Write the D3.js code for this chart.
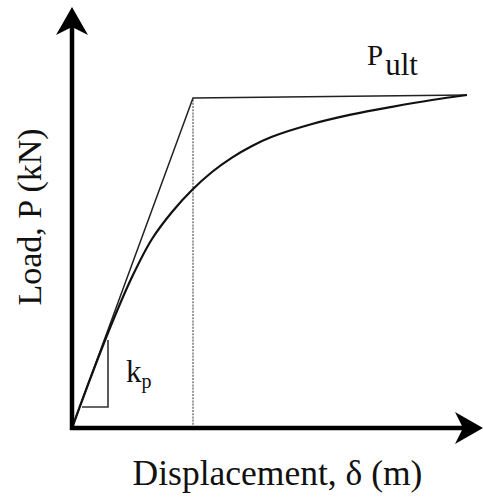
<!DOCTYPE html>
<html>
<head>
<meta charset="utf-8">
<script src="https://cdn.jsdelivr.net/npm/d3@7/dist/d3.min.js"></script>
<style>
  html, body { margin: 0; padding: 0; background: #fff; }
  svg { display: block; }
  svg text { font-family: "Liberation Serif", "DejaVu Serif", serif; }
</style>
</head>
<body>
<script>
// Load–displacement response of a pile: nonlinear curve and its bilinear idealisation
// (normalised units, 0–100 on both axes)
const curveDisp = [0, 5, 10, 15, 20, 25, 30, 35, 40, 45, 50, 60, 70, 80, 90, 98.75];
const curveLoad = [0, 13.5, 26.25, 37.75, 47.25, 54.0, 59.5, 64.0, 67.6, 70.5, 72.8, 76.0, 78.4, 80.3, 82.0, 83.25];

const bilinDisp = [0, 30.25, 98.75];
const bilinLoad = [0, 82.5, 83.25];

// yield displacement marker and initial-stiffness (kp) triangle
const yieldDisp = 30.25;
const yieldLoad = 82.5;
const kpDisp = [2.5, 9, 9];
const kpLoad = [5.25, 5.25, 22];

const axisExtent = { x: 102.75, y: 105.25 };
const xLabel = "Displacement, δ (m)";
const yLabel = "Load, P (kN)";

const W = 483, H = 499;
const svg = d3.select("body").append("svg").attr("width", W).attr("height", H);

const x = d3.scaleLinear().domain([0, 100]).range([72, 472]);
const y = d3.scaleLinear().domain([0, 100]).range([428, 28]);

const line = d3.line().x(d => x(d[0])).y(d => y(d[1]));

// dotted vertical line at yield displacement
svg.append("path")
  .attr("d", line([[yieldDisp, 0], [yieldDisp, yieldLoad]]))
  .attr("fill", "none").attr("stroke", "#555").attr("stroke-width", 1.2)
  .attr("stroke-dasharray", "2,1.2");

// kp triangle
svg.append("path")
  .attr("d", line(kpDisp.map((d, i) => [d, kpLoad[i]])))
  .attr("fill", "none").attr("stroke", "#333").attr("stroke-width", 1.6);

// bilinear idealisation
svg.append("path")
  .attr("d", line(bilinDisp.map((d, i) => [d, bilinLoad[i]])))
  .attr("fill", "none").attr("stroke", "#222").attr("stroke-width", 1.5)
  .attr("stroke-linejoin", "miter");

// nonlinear load–displacement curve
svg.append("path")
  .attr("d", d3.line().curve(d3.curveCatmullRom.alpha(0.5)).x(d => x(d[0])).y(d => y(d[1]))(curveDisp.map((d, i) => [d, curveLoad[i]])))
  .attr("fill", "none").attr("stroke", "#111").attr("stroke-width", 2.2);

// axes with arrowheads
const x0 = x(0), y0 = y(0);
const xTip = x(axisExtent.x), yTip = y(axisExtent.y);
svg.append("line").attr("x1", x0 - 2).attr("y1", y0).attr("x2", xTip - 12).attr("y2", y0)
  .attr("stroke", "#000").attr("stroke-width", 4.5);
svg.append("line").attr("x1", x0).attr("y1", y0 + 2).attr("x2", x0).attr("y2", yTip + 12)
  .attr("stroke", "#000").attr("stroke-width", 4.5);
svg.append("path")
  .attr("d", `M${xTip},${y0} L${xTip - 28},${y0 - 16} L${xTip - 20},${y0} L${xTip - 28},${y0 + 16} Z`)
  .attr("fill", "#000");
svg.append("path")
  .attr("d", `M${x0},${yTip} L${x0 + 16},${yTip + 28} L${x0},${yTip + 20} L${x0 - 16},${yTip + 28} Z`)
  .attr("fill", "#000");

// labels
svg.append("text")
  .attr("x", 277.5).attr("y", 485)
  .attr("text-anchor", "middle").attr("font-size", 35.5).attr("fill", "#111")
  .text(xLabel);

svg.append("text")
  .attr("transform", `translate(41,217) rotate(-90)`)
  .attr("text-anchor", "middle").attr("font-size", 34).attr("fill", "#111")
  .text(yLabel);

const pult = svg.append("text").attr("x", 367).attr("y", 65).attr("font-size", 29).attr("fill", "#111");
pult.append("tspan").text("P");
pult.append("tspan").attr("dx", 2).attr("dy", 10).attr("font-size", 31).text("ult");

const kp = svg.append("text").attr("x", 126).attr("y", 382).attr("font-size", 31).attr("fill", "#111");
kp.append("tspan").text("k");
kp.append("tspan").attr("dy", 6).attr("font-size", 20).text("p");
</script>
</body>
</html>
